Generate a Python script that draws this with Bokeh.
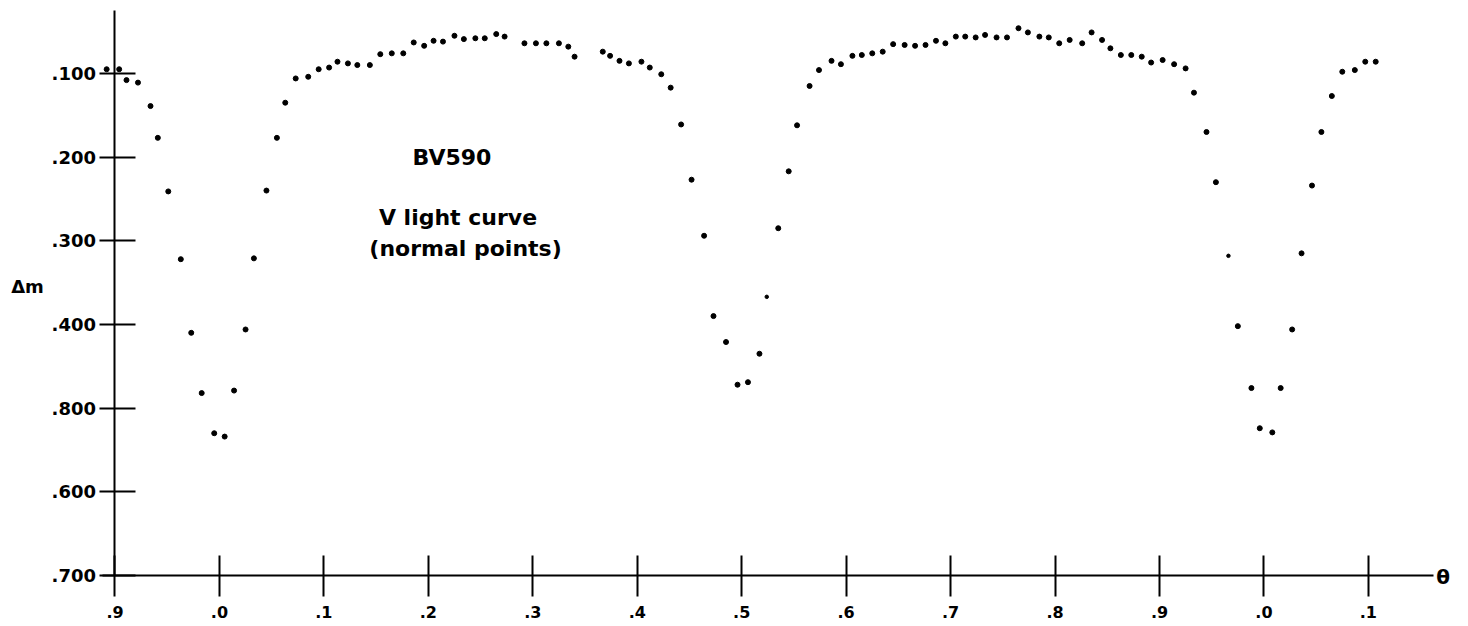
from bokeh.plotting import figure
from bokeh.models import Range1d, FixedTicker, Label
from bokeh.embed import file_html
from bokeh.resources import INLINE

# Normal points of the V light curve (phase, delta m)
phase = [-0.108, -0.096, -0.089, -0.078, -0.066, -0.059, -0.049, -0.037, -0.027, -0.017,
         -0.005, 0.005, 0.014, 0.025, 0.033, 0.045, 0.055, 0.063, 0.073, 0.085,
         0.095, 0.105, 0.113, 0.123, 0.132, 0.144, 0.154, 0.165, 0.176, 0.186,
         0.196, 0.205, 0.214, 0.225, 0.234, 0.245, 0.254, 0.265, 0.273, 0.292,
         0.303, 0.313, 0.325, 0.334, 0.340, 0.367, 0.374, 0.383, 0.392, 0.404,
         0.412, 0.423, 0.432, 0.442, 0.452, 0.464, 0.473, 0.485, 0.496, 0.506,
         0.517, 0.535, 0.545, 0.553, 0.565, 0.574, 0.586, 0.595, 0.606, 0.615,
         0.625, 0.635, 0.645, 0.656, 0.666, 0.676, 0.686, 0.695, 0.705, 0.714,
         0.724, 0.733, 0.744, 0.754, 0.765, 0.774, 0.785, 0.794, 0.804, 0.814,
         0.826, 0.835, 0.845, 0.853, 0.863, 0.873, 0.883, 0.892, 0.903, 0.914,
         0.925, 0.933, 0.945, 0.954, 0.975, 0.988, 0.996, 1.008, 1.016, 1.027,
         1.036, 1.046, 1.055, 1.065, 1.075, 1.087, 1.097, 1.107]
delta_m = [0.095, 0.095, 0.108, 0.111, 0.139, 0.177, 0.241, 0.322, 0.410, 0.482,
           0.530, 0.534, 0.479, 0.406, 0.321, 0.240, 0.177, 0.135, 0.106, 0.104,
           0.095, 0.093, 0.086, 0.088, 0.090, 0.090, 0.077, 0.076, 0.076, 0.063,
           0.067, 0.061, 0.062, 0.055, 0.059, 0.058, 0.058, 0.053, 0.056, 0.064,
           0.064, 0.064, 0.064, 0.068, 0.080, 0.074, 0.079, 0.085, 0.088, 0.086,
           0.093, 0.101, 0.117, 0.161, 0.227, 0.294, 0.390, 0.421, 0.472, 0.469,
           0.435, 0.285, 0.217, 0.162, 0.115, 0.096, 0.085, 0.089, 0.079, 0.078,
           0.076, 0.074, 0.065, 0.066, 0.067, 0.066, 0.061, 0.064, 0.056, 0.056,
           0.057, 0.054, 0.057, 0.057, 0.046, 0.051, 0.056, 0.057, 0.064, 0.060,
           0.064, 0.051, 0.060, 0.070, 0.078, 0.078, 0.080, 0.087, 0.084, 0.089,
           0.094, 0.123, 0.170, 0.230, 0.402, 0.476, 0.524, 0.529, 0.476, 0.406,
           0.315, 0.234, 0.170, 0.127, 0.098, 0.096, 0.086, 0.086]

# faint / small points
phase_small = [0.524, 0.966]
delta_m_small = [0.367, 0.318]

x_ticks = [-0.1, 0.0, 0.1, 0.2, 0.3, 0.4, 0.5, 0.6, 0.7, 0.8, 0.9, 1.0, 1.1]
x_tick_labels = [".9", ".0", ".1", ".2", ".3", ".4", ".5", ".6", ".7", ".8", ".9", ".0", ".1"]
y_ticks = [0.1, 0.2, 0.3, 0.4, 0.5, 0.6, 0.7]
y_tick_labels = [".100", ".200", ".300", ".400", ".800", ".600", ".700"]

FONT = "DejaVu Sans"

p = figure(width=1468, height=626,
           x_range=Range1d(-0.20962, 1.19584),
           y_range=Range1d(0.76095, 0.01286),
           output_backend="svg", toolbar_location=None,
           min_border_left=0, min_border_right=0,
           min_border_top=0, min_border_bottom=0)
p.grid.visible = False
p.outline_line_color = None
p.background_fill_color = "white"
p.border_fill_color = "white"

xa = p.xaxis[0]
xa.fixed_location = 0.7
xa.bounds = (-0.1123, 1.1623)
xa.ticker = FixedTicker(ticks=x_ticks)
xa.major_label_overrides = dict(zip(x_ticks, x_tick_labels))
xa.minor_tick_line_color = None
xa.axis_line_width = 2
xa.major_tick_line_width = 2
xa.major_tick_in = 20
xa.major_tick_out = 21
xa.major_label_standoff = 10
xa.major_label_text_font = FONT
xa.major_label_text_font_style = "bold"
xa.major_label_text_font_size = "16px"
xa.major_label_text_color = "black"
xa.axis_line_color = "black"
xa.major_tick_line_color = "black"

ya = p.yaxis[0]
ya.fixed_location = -0.1
ya.bounds = (0.0248, 0.7)
ya.ticker = FixedTicker(ticks=y_ticks)
ya.major_label_overrides = dict(zip(y_ticks, y_tick_labels))
ya.minor_tick_line_color = None
ya.axis_line_width = 2
ya.major_tick_line_width = 2
ya.major_tick_in = 21
ya.major_tick_out = 15
ya.major_label_standoff = 4
ya.major_label_text_font = FONT
ya.major_label_text_font_style = "bold"
ya.major_label_text_font_size = "18px"
ya.major_label_text_color = "black"
ya.axis_line_color = "black"
ya.major_tick_line_color = "black"

p.scatter(phase, delta_m, size=5, color="black")
p.scatter(phase_small, delta_m_small, size=3.5, color="black")

def add_label(x, y, text, size, **kw):
    p.add_layout(Label(x=x, y=y, text=text, text_font=FONT, text_font_style="bold",
                       text_font_size=size, text_color="black", **kw))

add_label(0.2226, 0.2005, "BV590", "22px", text_align="center", text_baseline="alphabetic")
add_label(0.2284, 0.2722, "V light curve", "22px", text_align="center", text_baseline="alphabetic")
add_label(0.2356, 0.3092, "(normal points)", "22px", text_align="center", text_baseline="alphabetic")
add_label(-0.18377, 0.3546, "Δm", "18px", text_align="center", text_baseline="alphabetic")
add_label(1.17143, 0.7018, "θ", "20px", text_align="center", text_baseline="middle")

open("out.html", "w").write(file_html(p, INLINE))
